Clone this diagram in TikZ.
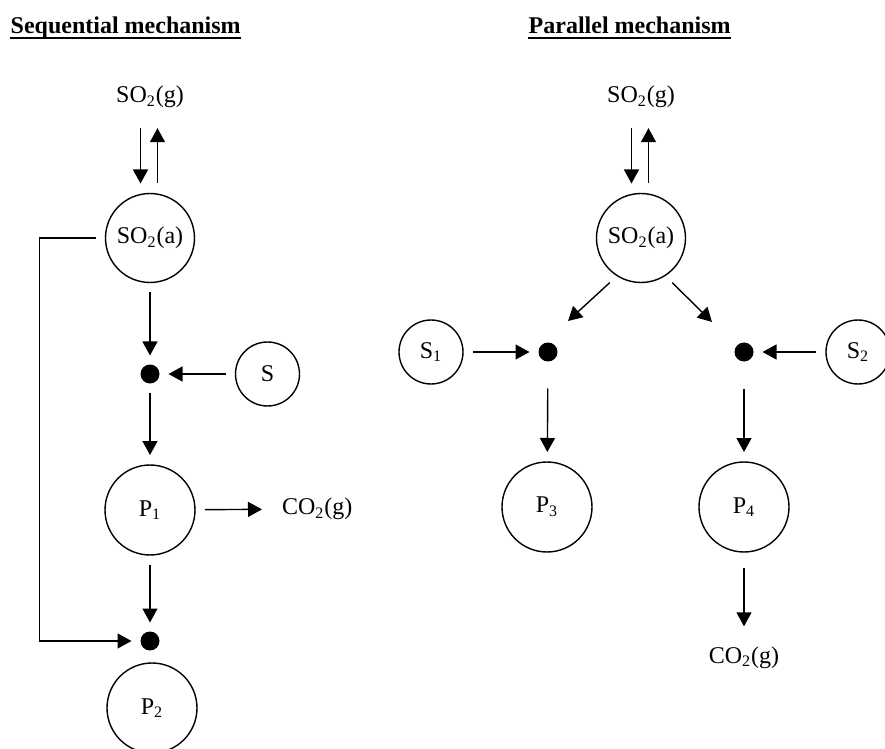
\documentclass[tikz,border=0pt]{standalone}
\usepackage{fontspec}
\setmainfont{Liberation Serif}
\usetikzlibrary{arrows.meta}

\begin{document}
\begin{tikzpicture}[x=0.5pt,y=-0.5pt,line width=0.7pt,
  font=\fontsize{12}{14}\selectfont,
  >={Triangle[length=7pt,width=7.5pt]},
  ads/.style={circle,draw,minimum size=44.5pt,inner sep=0pt,outer sep=5pt},
  sulf/.style={circle,draw,minimum size=32pt,inner sep=0pt,outer sep=5pt},
  prod/.style={circle,draw,minimum size=45pt,inner sep=0pt,outer sep=5pt},
  site/.style={circle,fill,minimum size=9.5pt,inner sep=0pt,outer sep=4.5pt},
  gas/.style={inner sep=0pt,outer sep=10pt},
  head/.style={inner sep=0pt,font=\fontsize{12}{14}\selectfont\bfseries,anchor=base west}]

\useasboundingbox (0,0) rectangle (885,749);

% sequential
\node[head] (seq) at (10,34) {Sequential mechanism};
\draw[line width=0.9pt] ([yshift=-2pt]seq.base west) -- ([yshift=-2pt]seq.base east);

\node[gas,anchor=base] (gl) at (150,103) {SO\textsubscript{2}(g)};
\node[ads] (sal) at (150,238) {SO\textsubscript{2}(a)};
\node[site] (d1) at (150,374) {};
\node[sulf] (s) at (267.5,374) {S};
\node[prod] (p1) at (150,510) {P\textsubscript{1}};
\node[gas,anchor=west] (co2l) at (262,509) {CO\textsubscript{2}(g)};
\node[site] (d2) at (150,641) {};
\node[prod] (p2) at (152,708) {P\textsubscript{2}};

\draw[->] ([xshift=-4.75pt]gl.south) -- ([xshift=-4.75pt]sal.north);
\draw[->] ([xshift=3.75pt]sal.north) -- ([xshift=3.75pt]gl.south);
\draw[->] (sal) -- (d1);
\draw[->] (s) -- (d1);
\draw[->] (d1) -- (p1);
\draw[->] (p1) -- (co2l);
\draw[->] (p1) -- (d2);
\draw[->] (sal.west) -- ++(-56,0) |- (d2);

% parallel
\node[head] (par) at (528,34) {Parallel mechanism};
\draw[line width=0.9pt] ([yshift=-2pt]par.base west) -- ([yshift=-2pt]par.base east);

\node[gas,anchor=base] (gr) at (641,103) {SO\textsubscript{2}(g)};
\node[ads] (sar) at (641,238) {SO\textsubscript{2}(a)};
\node[site] (dl) at (548,352) {};
\node[site] (dr) at (744,352) {};
\node[sulf] (s1) at (431,352) {S\textsubscript{1}};
\node[sulf] (s2) at (858,352) {S\textsubscript{2}};
\node[prod] (p3) at (547,507) {P\textsubscript{3}};
\node[prod] (p4) at (744,507) {P\textsubscript{4}};
\node[gas,anchor=base] (co2r) at (744,663) {CO\textsubscript{2}(g)};

\path (dl) ++(20,-31) coordinate (dlin);
\path (dr) ++(-32,-30) coordinate (drin);

\draw[->] ([xshift=-4.75pt]gr.south) -- ([xshift=-4.75pt]sar.north);
\draw[->] ([xshift=3.75pt]sar.north) -- ([xshift=3.75pt]gr.south);
\draw[->] (sar.235) -- (dlin);
\draw[->] (sar.305) -- (drin);
\draw[->] (s1) -- (dl);
\draw[->] (s2) -- (dr);
\draw[->,shorten <=9pt] (dl) -- (p3);
\draw[->,shorten <=9pt] (dr) -- (p4);
\draw[->,shorten <=3pt] (p4) -- (co2r);

\end{tikzpicture}
\end{document}
